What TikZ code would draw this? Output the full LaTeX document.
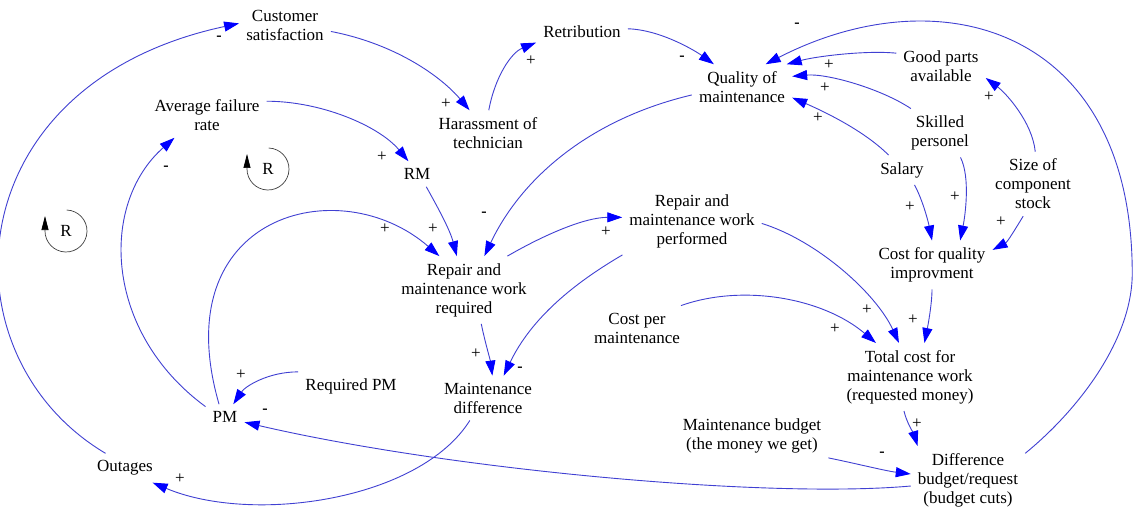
\documentclass[tikz,border=0pt]{standalone}
\usepackage{fontspec}
\setmainfont{Liberation Serif}
\newfontfamily\diagserif{Liberation Serif}
\usetikzlibrary{arrows.meta}
\definecolor{linkblue}{RGB}{64,64,210}
\definecolor{tipblue}{RGB}{0,0,255}
\begin{document}
\begin{tikzpicture}[x=1pt,y=-1pt,
  varbox/.style={inner sep=7pt, align=center, font=\diagserif\fontsize{17}{19}\selectfont},
  cnx/.style={draw=linkblue, line width=0.9pt, -{Triangle[length=15pt,width=10pt,color=tipblue]}},
  signp/.style={font=\diagserif\fontsize{17}{17}\selectfont, inner sep=0pt, text=black},
  signm/.style={font=\diagserif\bfseries\fontsize{16}{16}\selectfont, inner sep=0pt},
  loopline/.style={draw=black!75, line width=0.7pt, -{Triangle[length=14pt,width=7pt,color=black]}}
]
\fill[white] (0,0) rectangle (1138,508);
\useasboundingbox (0,0) rectangle (1138,508);

% variables
\node[varbox] (cs)  at (285,25)  {Customer\\satisfaction};
\node[varbox] (afr) at (207,115) {Average failure\\rate};
\node[varbox] (har) at (488,133) {Harassment of\\technician};
\node[varbox] (ret) at (582,32)  {Retribution};
\node[varbox] (qom) at (742,87)  {Quality of\\maintenance};
\node[varbox] (gpa) at (941,66)  {Good parts\\available};
\node[varbox] (sp)  at (940,133) {Skilled\\personel};
\node[varbox] (sal) at (902,170) {Salary};
\node[varbox] (scs) at (1033,184) {Size of\\component\\stock};
\node[varbox] (cqi) at (932,265) {Cost for quality\\improvment};
\node[varbox] (rm)  at (417,174) {RM};
\node[varbox] (rmr) at (464,290) {Repair and\\maintenance work\\required};
\node[varbox] (rmp) at (692,221) {Repair and\\maintenance work\\performed};
\node[varbox] (cpm) at (637,328) {Cost per\\maintenance};
\node[varbox] (md)  at (488,398) {Maintenance\\difference};
\node[varbox] (rpm) at (351,386) {Required PM};
\node[varbox] (pm)  at (225,417) {PM};
\node[varbox] (out) at (125,468) {Outages};
\node[varbox] (tc)  at (910,377) {Total cost for\\maintenance work\\(requested money)};
\node[varbox] (mb)  at (752,436) {Maintenance budget\\(the money we get)};
\node[varbox] (dbr) at (968,480) {Difference\\budget/request\\(budget cuts)};

% causal links
\draw[cnx] (out.143) .. controls +(-165,-98) and +(-285,61) .. (cs.178);
\draw[cnx] (cs.-8) .. controls +(67,13) and +(-27,-32) .. (har.129);
\draw[cnx] (har.88) .. controls +(6,-33) and +(-25,10) .. (ret.193);
\draw[cnx] (ret.4) .. controls +(33,1) and +(-18,-13) .. (qom.141);
\draw[cnx] (qom.189) .. controls +(-102,24) and +(37,-78) .. (rmr.59);
\draw[cnx] (afr.13) .. controls +(55,0) and +(-29,-35) .. (rm.124);
\draw[cnx] (rm.-54) .. controls +(10,18) and +(-7,-27) .. (rmr.102);
\draw[cnx] (pm.115) .. controls +(-55,-190) and +(-100,-87) .. (rmr.126);
\draw[cnx] (pm.152) .. controls +(-102,-75) and +(-75,66) .. (afr.215);
\draw[cnx] (md.231) .. controls +(-50,80) and +(100,42) .. (out.-28);
\draw[cnx] (dbr.186) .. controls +(-147,13) and +(202,47) .. (pm.-15);
\draw[cnx] (rpm.165) .. controls +(-30,0) and +(12,-18) .. (pm.57);
\draw[cnx] (rmr.38) .. controls +(38,-22) and +(-37,0) .. (rmp.177);
\draw[cnx] (rmp.206) .. controls +(-48,28) and +(28,-58) .. (md.55);
\draw[cnx] (rmr.-63) .. controls +(3,15) and +(-2,-15) .. (md.79);
\draw[cnx] (rmp.-2) .. controls +(55,17) and +(-23,-50) .. (tc.108);
\draw[cnx] (cpm.27) .. controls +(62,-22) and +(-53,-45) .. (tc.135);
\draw[cnx] (cqi.-90) .. controls +(0,15) and +(3,-15) .. (tc.67);
\draw[cnx] (tc.-100) .. controls +(2,10) and +(-3,-10) .. (dbr.146);
\draw[cnx] (mb.-16) .. controls +(25,5) and +(-25,-3) .. (dbr.174);
\draw[cnx] (dbr.25) .. controls +(55,-45) and +(0,65) .. ++(107,-180)
                    .. controls +(0,-245) and +(175,-90) .. (qom.44);
\draw[cnx] (gpa.164) .. controls +(-30,-3) and +(30,-8) .. (qom.27);
\draw[cnx] (sp.140) .. controls +(-30,-20) and +(35,-3) .. (qom.12);
\draw[cnx] (sal.132) .. controls +(-25,-25) and +(30,13) .. (qom.-12);
\draw[cnx] (sal.-50) .. controls +(8,15) and +(-4,-20) .. (cqi.90);
\draw[cnx] (sp.-50) .. controls +(10,20) and +(5,-25) .. (cqi.41);
\draw[cnx] (scs.253) .. controls +(-8,13) and +(15,-8) .. (cqi.14);
\draw[cnx] (scs.86) .. controls +(-3,-30) and +(20,15) .. (gpa.-15);

% link polarities
\node[signm] (s1)  at (219,38)  {-};
\node[signp] (s2)  at (446,104) {+};
\node[signp] (s3)  at (531,61)  {+};
\node[signm] (s4)  at (682,58)  {-};
\node[signm] (s5)  at (484,214) {-};
\node[signp] (s6)  at (382,157) {+};
\node[signp] (s7)  at (433,229) {+};
\node[signp] (s8)  at (385,229) {+};
\node[signm] (s9)  at (166,168) {-};
\node[signp] (s10) at (180,479) {+};
\node[signm] (s11) at (265,411) {-};
\node[signp] (s12) at (241,375) {+};
\node[signp] (s13) at (606,232) {+};
\node[signm] (s14) at (520,369) {-};
\node[signp] (s15) at (476,354) {+};
\node[signp] (s16) at (867,310) {+};
\node[signp] (s17) at (835,329) {+};
\node[signp] (s18) at (913,320) {+};
\node[signp] (s19) at (917,424) {+};
\node[signm] (s20) at (882,454) {-};
\node[signm] (s21) at (797,25)  {-};
\node[signp] (s22) at (829,65)  {+};
\node[signp] (s23) at (825,88)  {+};
\node[signp] (s24) at (818,118) {+};
\node[signp] (s25) at (910,207) {+};
\node[signp] (s26) at (955,197) {+};
\node[signp] (s27) at (1001,222) {+};
\node[signp] (s28) at (989,97)  {+};

% reinforcing loop markers
\node[varbox, inner sep=0pt] (r1) at (268,169) {R};
\draw[loopline] (268,169) ++(-88:21) arc[start angle=-88, end angle=180, radius=21] -- ++(0,-15);
\node[varbox, inner sep=0pt] (r2) at (66,231) {R};
\draw[loopline] (66,231) ++(-88:21) arc[start angle=-88, end angle=180, radius=21] -- ++(0,-15);
\end{tikzpicture}
\end{document}
